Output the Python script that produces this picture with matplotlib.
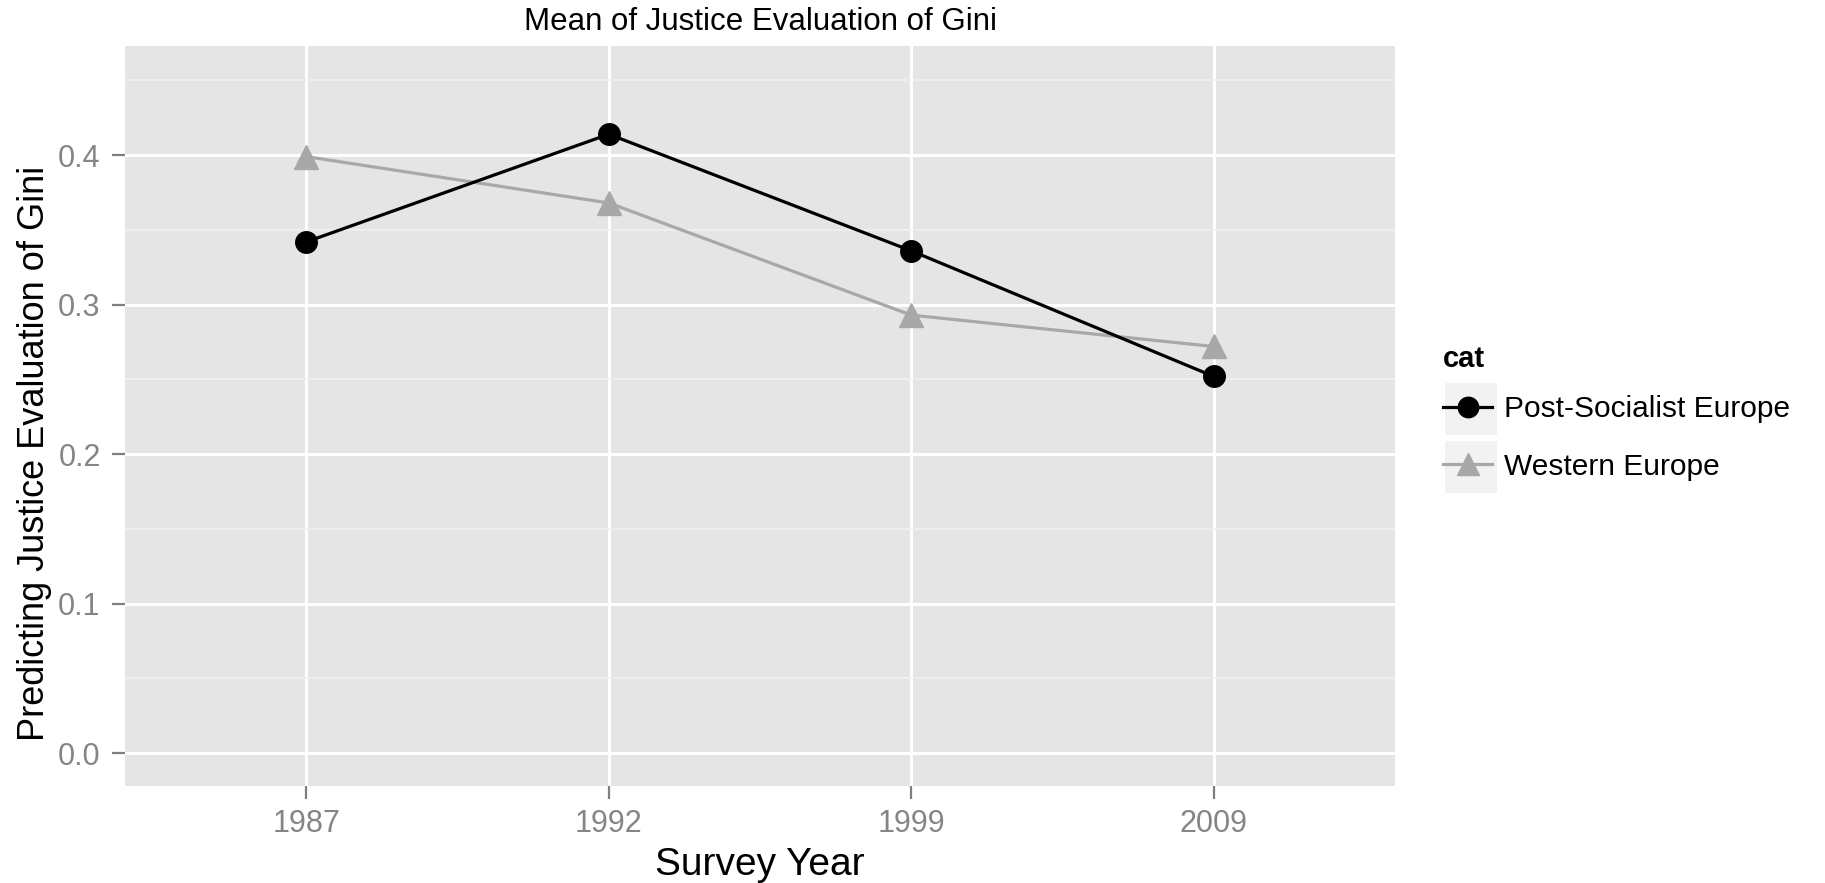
import numpy as np
import matplotlib
matplotlib.use("Agg")
import matplotlib.pyplot as plt
from matplotlib.patches import Rectangle

plt.rcParams['font.family'] = ['Liberation Sans', 'DejaVu Sans']

# data
years = ['1987', '1992', '1999', '2009']
post_socialist = [0.342, 0.414, 0.336, 0.252]
western = [0.399, 0.368, 0.293, 0.272]
series_names = ['Post-Socialist Europe', 'Western Europe']
y_ticks = [0.0, 0.1, 0.2, 0.3, 0.4]
y_minor = [0.05, 0.15, 0.25, 0.35, 0.45]

W, H = 1825, 883
fig = plt.figure(figsize=(W / 100, H / 100), dpi=100)

# panel in pixel coords: left 125, right 1395, top 46, bottom 786
ax = fig.add_axes([125 / W, (H - 786) / H, (1395 - 125) / W, (786 - 46) / H])
ax.set_facecolor('#e5e5e5')
for s in ax.spines.values():
    s.set_visible(False)

x = np.arange(len(years))
ax.plot(x, post_socialist, color='black', lw=2.3, marker='o', ms=15.5,
        zorder=4, label=series_names[0])
ax.plot(x, western, color='#a8a8a8', lw=2.3, marker='^', ms=17,
        zorder=3, label=series_names[1])

ax.set_xlim(-0.6, len(years) - 0.4)
ax.set_ylim(-0.022, 0.473)
ax.set_xticks(x)
ax.set_xticklabels(years)
ax.set_yticks(y_ticks)
ax.set_yticklabels(['%.1f' % v for v in y_ticks])
ax.set_yticks(y_minor, minor=True)

# ggplot-like grid
ax.grid(True, which='major', color='white', lw=2.2, zorder=0)
ax.grid(True, which='minor', axis='y', color='#f2f2f2', lw=1.1, zorder=0)
ax.set_axisbelow(True)

ax.tick_params(axis='both', which='major', colors='#7f7f7f', length=9.5,
               width=1.6, labelsize=22, labelcolor='#858585')
ax.tick_params(axis='x', pad=7)
ax.tick_params(axis='y', pad=8)
ax.tick_params(which='minor', length=0)

# titles
fig.text(760 / W, (H - 22) / H, 'Mean of Justice Evaluation of Gini',
         ha='center', va='center', fontsize=22.5)
fig.text(760 / W, 8 / H, 'Survey Year', ha='center', va='baseline',
         fontsize=28)
fig.text(35 / W, (H - 453) / H, 'Predicting Justice Evaluation of Gini',
         ha='center', va='center', rotation=90, fontsize=26)

# legend (title drawn separately to control the gap)
fig.text(1443 / W, (H - 359) / H, 'cat', ha='left', va='center',
         fontsize=21, fontweight='bold')
handles, labels = ax.get_legend_handles_labels()
leg = fig.legend(handles, labels, loc='upper left',
                 bbox_to_anchor=(1443 / W, (H - 395) / H),
                 frameon=False, fontsize=21.5,
                 borderpad=0, borderaxespad=0,
                 handlelength=1.65, handletextpad=0.4, labelspacing=1.0,
                 markerscale=0.95)
leg.set_zorder(5)

# grey key backgrounds behind legend handles
fig.canvas.draw()
for t in leg.get_texts():
    bb = t.get_window_extent()
    cy = (bb.y0 + bb.y1) / 2
    fig.add_artist(Rectangle((1444 / W, (cy - 27) / H), 54 / W, 54 / H,
                             transform=fig.transFigure, facecolor='#f2f2f2',
                             edgecolor='white', lw=1.5, zorder=1))

fig.savefig('out.png', dpi=100)
